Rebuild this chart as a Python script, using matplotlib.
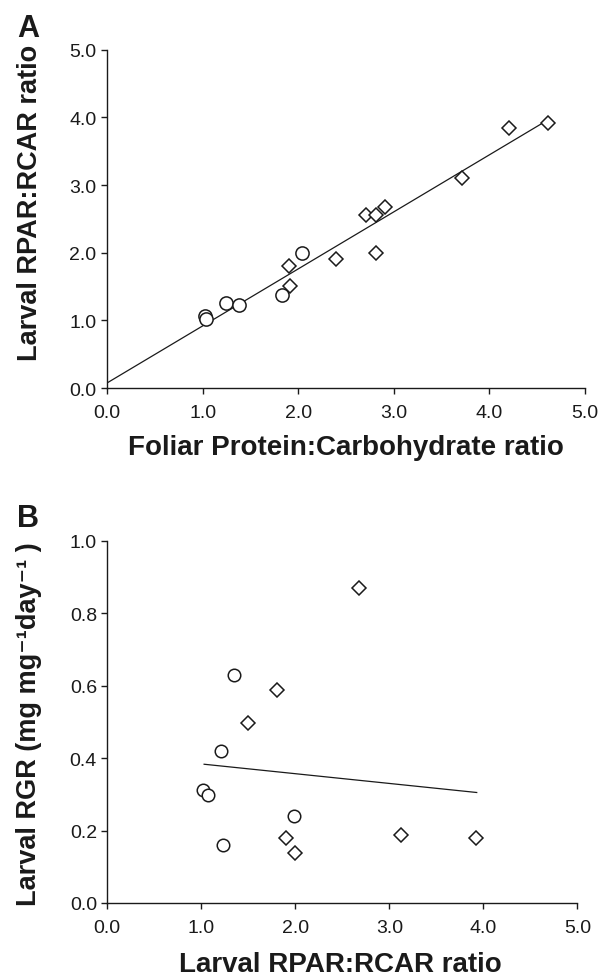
import numpy as np
import matplotlib
matplotlib.use('Agg')
import matplotlib.pyplot as plt

plt.rcParams['font.family'] = ['Liberation Sans', 'DejaVu Sans']

#------------------------------------------------------------------------------
# Dados - painel A
#------------------------------------------------------------------------------
a_circ_x = [1.03, 1.04, 1.24, 1.38, 1.83, 2.04]
a_circ_y = [1.07, 1.02, 1.25, 1.23, 1.38, 2.00]
a_diam_x = [1.90, 1.91, 2.40, 2.71, 2.81, 2.81, 2.91, 3.71, 4.21, 4.61]
a_diam_y = [1.80, 1.51, 1.90, 2.56, 2.55, 2.00, 2.67, 3.11, 3.85, 3.91]
a_fit_x = [0.0, 4.55]
a_fit_y = [0.074, 3.91]

#------------------------------------------------------------------------------
# Dados - painel B
#------------------------------------------------------------------------------
b_circ_x = [1.02, 1.07, 1.21, 1.23, 1.35, 1.99]
b_circ_y = [0.311, 0.299, 0.42, 0.161, 0.63, 0.241]
b_diam_x = [1.50, 1.80, 1.90, 2.00, 2.68, 3.12, 3.92]
b_diam_y = [0.498, 0.588, 0.179, 0.138, 0.87, 0.188, 0.179]
b_fit_x = [1.03, 3.93]
b_fit_y = [0.383, 0.305]

a_ticks = [0.0, 1.0, 2.0, 3.0, 4.0, 5.0]
b_yticks = [0.0, 0.2, 0.4, 0.6, 0.8, 1.0]

cor = '#1a1a1a'
W, H = 605, 978
fig = plt.figure(figsize=(W / 100, H / 100), dpi=100)

axA = fig.add_axes([107 / W, 1 - 389 / H, 478 / W, 338.3 / H])
axB = fig.add_axes([107.3 / W, 1 - 904 / H, 470 / W, 362.3 / H])


def estilo(ax):
    for s in ['top', 'right']:
        ax.spines[s].set_visible(False)
    for s in ['left', 'bottom']:
        ax.spines[s].set_linewidth(1.0)
        ax.spines[s].set_color(cor)
    ax.tick_params(direction='out', length=4.5, width=1.0, colors=cor,
                   labelsize=14, pad=3)
    ax.tick_params(axis='x', pad=7)


# Painel A
axA.plot(a_fit_x, a_fit_y, '-', color=cor, lw=0.9, zorder=1)
axA.plot(a_circ_x, a_circ_y, 'o', ms=9.5, mfc='white', mec=cor, mew=1.1, ls='none')
axA.plot(a_diam_x, a_diam_y, 'D', ms=6.8, mfc='white', mec=cor, mew=1.1, ls='none')
axA.set_xlim(0, 5)
axA.set_ylim(0, 5)
axA.set_xticks(a_ticks)
axA.set_yticks(a_ticks)
axA.set_xticklabels(['%.1f' % t for t in a_ticks])
axA.set_yticklabels(['%.1f' % t for t in a_ticks])
estilo(axA)
fig.text(346 / W, 1 - 455 / H, 'Foliar Protein:Carbohydrate ratio',
         fontsize=20, fontweight='bold', ha='center', va='baseline', color=cor)
fig.text(30 / W, 1 - 203 / H, 'Larval RPAR:RCAR ratio', fontsize=19.5,
         fontweight='bold', rotation=90, ha='center', va='center', color=cor)
fig.text(17 / W, 1 - 37 / H, 'A', fontsize=22, fontweight='bold', color=cor)

# Painel B
axB.plot(b_fit_x, b_fit_y, '-', color=cor, lw=0.9, zorder=1)
axB.plot(b_circ_x, b_circ_y, 'o', ms=9, mfc='white', mec=cor, mew=1.1, ls='none')
axB.plot(b_diam_x, b_diam_y, 'D', ms=6.8, mfc='white', mec=cor, mew=1.1, ls='none')
axB.set_xlim(0, 5)
axB.set_ylim(0, 1)
axB.set_xticks(a_ticks)
axB.set_yticks(b_yticks)
axB.set_xticklabels(['%.1f' % t for t in a_ticks])
axB.set_yticklabels(['%.1f' % t for t in b_yticks])
estilo(axB)
fig.text(340 / W, 1 - 972 / H, 'Larval RPAR:RCAR ratio', fontsize=20,
         fontweight='bold', ha='center', va='baseline', color=cor)
fig.text(29 / W, 1 - 724 / H, 'Larval RGR (mg mg\u207b\u00b9day\u207b\u00b9 )',
         fontsize=19.5, fontweight='bold', rotation=90, ha='center',
         va='center', color=cor)
fig.text(17 / W, 1 - 527 / H, 'B', fontsize=22, fontweight='bold', color=cor)

fig.savefig('out.png', dpi=100)
